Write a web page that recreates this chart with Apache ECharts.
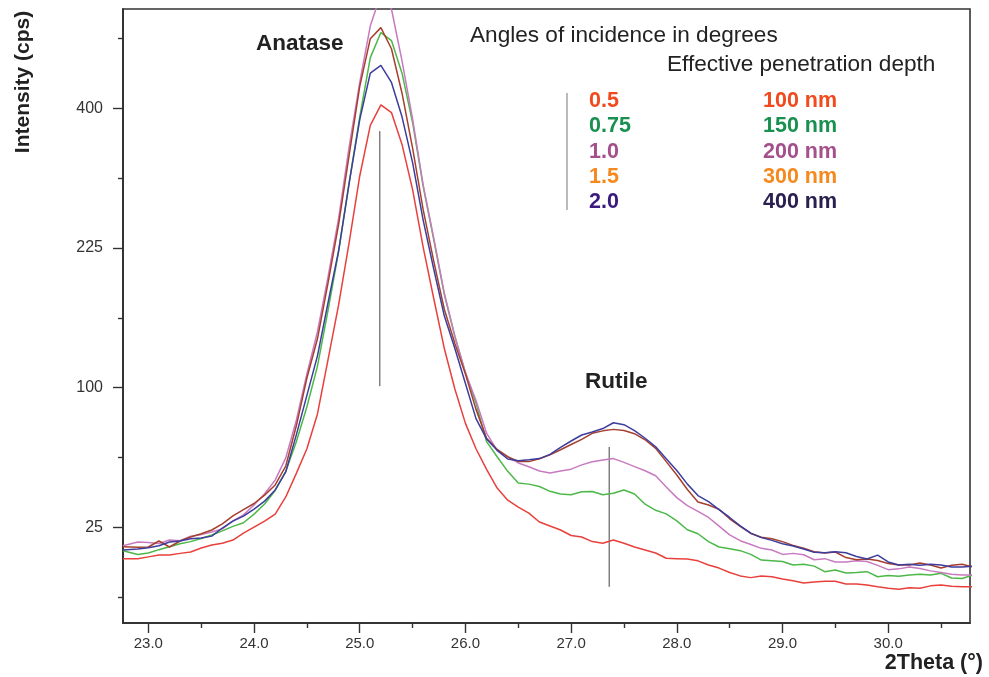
<!DOCTYPE html>
<html>
<head>
<meta charset="utf-8">
<script src="https://cdn.jsdelivr.net/npm/echarts@6/dist/echarts.min.js"></script>
<style>
  html, body { margin: 0; padding: 0; background: #fff; }
  #chart { width: 989px; height: 677px; }
</style>
</head>
<body>
<div id="chart"></div>
<script>
// 2theta in degrees
const theta = [
  22.76, 22.9, 23.0, 23.1, 23.2, 23.3, 23.4, 23.5, 23.6, 23.7, 23.8, 23.9,
  24.0, 24.1, 24.2, 24.3, 24.4, 24.5, 24.6, 24.7, 24.8, 24.9,
  25.0, 25.1, 25.2, 25.3, 25.4, 25.5, 25.6, 25.7, 25.8, 25.9,
  26.0, 26.1, 26.2, 26.3, 26.4, 26.5, 26.6, 26.7, 26.8, 26.9,
  27.0, 27.1, 27.2, 27.3, 27.4, 27.5, 27.6, 27.7, 27.8, 27.9,
  28.0, 28.1, 28.2, 28.3, 28.4, 28.5, 28.6, 28.7, 28.8, 28.9,
  29.0, 29.1, 29.2, 29.3, 29.4, 29.5, 29.6, 29.7, 29.8, 29.9,
  30.0, 30.1, 30.2, 30.3, 30.4, 30.5, 30.6, 30.7, 30.8
]

// intensity (cps) for each angle of incidence
const cps05 = [
  15.0, 15.0, 15.5, 16.0, 16.0, 16.5, 16.9, 18.1, 19.0, 19.6, 20.6, 22.9,
  25.0, 27.2, 29.9, 37, 48, 61, 82, 121, 168, 231,
  309, 376, 405, 394, 350, 292, 226, 174, 130, 99,
  76, 61, 50, 41, 35.6, 32.7, 30.3, 26.9, 25.4, 24.0,
  22.1, 21.6, 20.1, 19.6, 20.6, 19.6, 18.4, 17.5, 16.6, 15.1,
  15.0, 14.9, 14.4, 13.3, 12.5, 11.4, 10.6, 10.2, 10.6, 10.4,
  9.9, 9.5, 9.0, 9.2, 9.4, 9.4, 8.8, 8.8, 8.6, 8.2,
  7.9, 7.7, 8.0, 7.9, 8.4, 8.6, 8.3, 8.2, 8.2
]
const cps075 = [
  17.3, 16.2, 16.6, 17.6, 18.5, 19.4, 20.1, 21.1, 22.3, 23.7, 25.3, 26.6,
  29.9, 34, 39.9, 49, 65, 86.7, 116, 163, 221, 301,
  388, 476, 516, 503, 452, 380, 296, 234, 178, 140,
  111, 89, 65, 56.6, 49, 43.3, 42.8, 41.7, 39.5, 38.3,
  38.0, 39.3, 39.4, 38.0, 38.6, 40.1, 38.3, 33.9, 31.4, 30.0,
  27.3, 24.1, 22.7, 20.1, 18.4, 17.9, 17.3, 16.2, 14.6, 14.4,
  14.2, 13.3, 13.5, 13.0, 11.6, 12.0, 11.3, 11.4, 11.6, 10.4,
  10.7, 10.5, 10.8, 11.0, 10.8, 11.2, 10.1, 10.0, 10.8
]
const cps10 = [
  18.8, 20.0, 19.8, 19.5, 20.6, 20.4, 21.9, 22.4, 23.3, 24.4, 27.3, 29.6,
  33.6, 38.4, 44.7, 56, 78, 110, 144, 195, 258, 347,
  438, 527, 580, 555, 471, 385, 298, 236, 179, 140,
  111, 91, 70, 60, 56.5, 53.3, 51.3, 49.2, 48.2, 49.2,
  50.1, 52.3, 53.9, 54.9, 55.6, 53.6, 51.4, 49.3, 46.8, 41.5,
  36.7, 33.3, 31.0, 28.6, 25.4, 22.3, 20.4, 19.2, 18.0, 17.5,
  16.2, 16.5, 16.1, 14.7, 15.0, 14.1, 14.1, 14.4, 14.2, 13.2,
  12.1, 12.3, 12.8, 12.4, 11.8, 11.4, 11.0, 10.8, 10.8
]
const cps15 = [
  18.5, 18.3, 18.4, 20.3, 18.4, 20.3, 21.6, 22.7, 24.0, 26.2, 29.2, 31.7,
  34.2, 37.8, 42.4, 51.7, 74.5, 107, 138, 189, 251, 336,
  432, 506, 524, 490, 422, 345, 268, 211, 164, 134,
  110, 85, 67, 60.6, 56.6, 54.1, 54.0, 55.5, 57.6, 60.4,
  63.4, 66.3, 69.9, 71.4, 72.3, 71.6, 69.7, 66.1, 61.2, 54.0,
  47.2, 40.3, 34.8, 33.6, 31.8, 28.1, 25.3, 22.8, 21.5, 21.0,
  20.1, 18.9, 18.0, 17.0, 16.6, 16.9, 15.3, 14.7, 14.9, 14.5,
  13.7, 13.3, 13.3, 13.8, 13.3, 12.5, 13.2, 13.5, 12.8
]
const cps20 = [
  17.5, 17.8, 18.2, 18.8, 20.0, 20.3, 21.0, 21.3, 21.9, 24.7, 27.2, 29.1,
  31.9, 35.2, 40.1, 48.7, 69, 94.5, 124, 170, 222, 300,
  384, 452, 464, 438, 388, 326, 256, 203, 158, 130,
  103, 79, 66.6, 60.1, 55.4, 54.5, 55.0, 55.6, 57.9, 61.8,
  65.4, 68.9, 70.7, 72.8, 76.4, 75.2, 71.5, 67.0, 62.1, 55.5,
  49.4, 42.8, 37.6, 35.0, 31.7, 28.6, 25.5, 22.9, 21.4, 20.5,
  19.4, 18.7, 17.8, 16.8, 16.7, 17.0, 16.7, 15.6, 14.9, 16.0,
  14.1, 13.3, 13.5, 13.2, 13.5, 13.3, 12.8, 12.8, 13.0
]

const angleLabels = ['0.5', '0.75', '1.0', '1.5', '2.0']
const depthLabels = ['100 nm', '150 nm', '200 nm', '300 nm', '400 nm']

// reflection marker lines: position, lower and upper intensity
const markerNames = ['Anatase', 'Rutile']
const markerTheta = [25.19, 27.36]
const markerLow = [101, 8.2]
const markerHigh = [368, 62]

// axes
const xMin = 22.76
const xMax = 30.774
const xTicks = [23, 24, 25, 26, 27, 28, 29, 30]
const xMinorTicks = [23.5, 24.5, 25.5, 26.5, 27.5, 28.5, 29.5, 30.5]
const yMin = 2.46
const yMax = 555
const yTicks = [25, 100, 225, 400]
const yMinorTicks = [6.25, 56.25, 156.25, 306.25, 506.25]

const FONT = '"Liberation Sans", Arial, sans-serif'
const curveColors = ['#e8403c', '#4cb848', '#c87ac0', '#a63f2e', '#3d3d9e']
const angleColors = ['#f04a1e', '#1a9050', '#a3508c', '#f5891e', '#3a1a7e']
const depthColors = ['#f04a1e', '#1a9050', '#a3508c', '#f5891e', '#2a2050']

// intensity axis is square-root scaled
const sq = v => Math.sqrt(v)

const chart = echarts.init(document.getElementById('chart'))

const curves = [cps05, cps075, cps10, cps15, cps20].map((ys, i) => ({
  name: angleLabels[i],
  type: 'line',
  showSymbol: false,
  animation: false,
  clip: true,
  xAxisIndex: 0,
  yAxisIndex: 0,
  lineStyle: { color: curveColors[i], width: 1.5 },
  data: ys.map((y, k) => [theta[k], sq(y)]),
}))

const markers = markerTheta.map((t, i) => ({
  name: markerNames[i],
  type: 'line',
  showSymbol: false,
  animation: false,
  silent: true,
  z: 1,
  lineStyle: { color: '#444', width: 1 },
  data: [[t, sq(markerLow[i])], [t, sq(markerHigh[i])]],
}))

const axisLine = { show: true, lineStyle: { color: '#333', width: 1.6 } }
const tickLine = { color: '#333', width: 1.4 }

const xBase = {
  type: 'value',
  position: 'bottom',
  min: xMin,
  max: xMax,
  splitLine: { show: false },
  axisLine: axisLine,
}
const yBase = {
  type: 'value',
  position: 'left',
  min: sq(yMin),
  max: sq(yMax),
  splitLine: { show: false },
  axisLine: axisLine,
}

// annotation texts
const texts = [
  { text: 'Anatase', x: 256, y: 44, font: 'bold 22.5px ' + FONT, fill: '#222' },
  { text: 'Rutile', x: 585, y: 382, font: 'bold 22.5px ' + FONT, fill: '#222' },
  { text: 'Angles of incidence in degrees', x: 470, y: 36, font: '22.6px ' + FONT, fill: '#222' },
  { text: 'Effective penetration depth', x: 667, y: 65, font: '22.6px ' + FONT, fill: '#222' },
]
angleLabels.forEach((a, i) => {
  texts.push({ text: a, x: 589, y: 101 + i * 25.3, font: 'bold 21.5px ' + FONT, fill: angleColors[i] })
  texts.push({ text: depthLabels[i], x: 763, y: 101 + i * 25.3, font: 'bold 21.5px ' + FONT, fill: depthColors[i] })
})

const graphic = texts.map(t => ({
  type: 'text',
  x: t.x,
  y: t.y,
  silent: true,
  style: {
    text: t.text, font: t.font, fill: t.fill,
    textAlign: 'left', textVerticalAlign: 'middle', align: 'left', verticalAlign: 'middle',
  },
}))
graphic.push({
  type: 'text', x: 23, y: 82, rotation: Math.PI / 2, silent: true,
  style: {
    text: 'Intensity (cps)', font: 'bold 21px ' + FONT, fill: '#222',
    textAlign: 'center', textVerticalAlign: 'middle', align: 'center', verticalAlign: 'middle',
  },
})
graphic.push({
  type: 'text', x: 983, y: 663, silent: true,
  style: {
    text: '2Theta (°)', font: 'bold 21.5px ' + FONT, fill: '#222',
    textAlign: 'right', textVerticalAlign: 'middle', align: 'right', verticalAlign: 'middle',
  },
})
// divider in front of the legend block
graphic.push({
  type: 'line', silent: true,
  shape: { x1: 567, y1: 93, x2: 567, y2: 210 },
  style: { stroke: '#777', lineWidth: 1 },
})

const option = {
  backgroundColor: '#fff',
  animation: false,
  grid: {
    left: 123, right: 19, top: 9, bottom: 54,
    show: true, borderColor: '#333', borderWidth: 1.6, backgroundColor: 'transparent',
  },
  xAxis: [
    Object.assign({}, xBase, {
      axisTick: { show: true, length: 10, lineStyle: tickLine, customValues: xTicks },
      axisLabel: {
        show: true, customValues: xTicks, margin: 13,
        color: '#333', fontSize: 15, fontFamily: FONT,
        formatter: v => v.toFixed(1),
      },
    }),
    Object.assign({}, xBase, {
      axisTick: { show: true, length: 5, lineStyle: tickLine, customValues: xMinorTicks },
      axisLabel: { show: false },
    }),
  ],
  yAxis: [
    Object.assign({}, yBase, {
      axisTick: { show: true, length: 10, lineStyle: tickLine, customValues: yTicks.map(sq) },
      axisLabel: {
        show: true, customValues: yTicks.map(sq), margin: 20,
        color: '#333', fontSize: 16, fontFamily: FONT,
        formatter: v => String(Math.round(v * v)),
      },
    }),
    Object.assign({}, yBase, {
      axisTick: { show: true, length: 5, lineStyle: tickLine, customValues: yMinorTicks.map(sq) },
      axisLabel: { show: false },
    }),
  ],
  series: curves.concat(markers),
  graphic: graphic,
}

chart.setOption(option)
</script>
</body>
</html>
